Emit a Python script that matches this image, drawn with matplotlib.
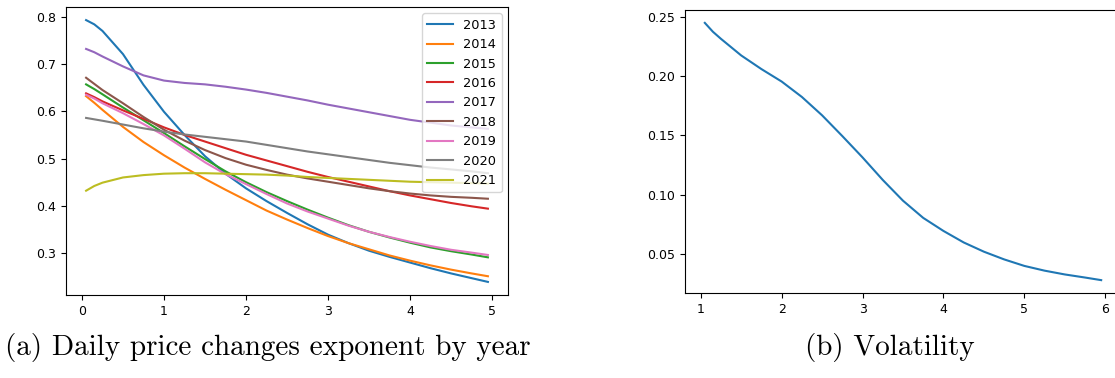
import matplotlib
matplotlib.use("Agg")
import matplotlib.pyplot as plt

# ── DATA ────────────────────────────────────────────────────────────
years = ["2013", "2014", "2015", "2016", "2017", "2018", "2019", "2020", "2021"]

scale = [0.05, 0.15, 0.25, 0.5, 0.75, 1.0, 1.25, 1.5, 1.75, 2.0, 2.25, 2.5,
         2.75, 3.0, 3.25, 3.5, 3.75, 4.0, 4.25, 4.5, 4.75, 4.95]

exp_2013 = [0.793, 0.784, 0.770, 0.721, 0.656, 0.599, 0.550, 0.505, 0.468,
            0.437, 0.410, 0.385, 0.361, 0.339, 0.321, 0.305, 0.292, 0.280,
            0.268, 0.257, 0.247, 0.239]
exp_2014 = [0.632, 0.618, 0.603, 0.567, 0.535, 0.507, 0.481, 0.457, 0.434,
            0.412, 0.390, 0.371, 0.353, 0.336, 0.321, 0.308, 0.295, 0.284,
            0.274, 0.265, 0.257, 0.251]
exp_2015 = [0.657, 0.647, 0.636, 0.608, 0.581, 0.554, 0.526, 0.499, 0.473,
            0.450, 0.429, 0.410, 0.392, 0.375, 0.359, 0.345, 0.333, 0.322,
            0.312, 0.304, 0.297, 0.291]
exp_2016 = [0.638, 0.630, 0.621, 0.602, 0.584, 0.566, 0.550, 0.536, 0.522,
            0.508, 0.496, 0.484, 0.472, 0.461, 0.451, 0.441, 0.431, 0.422,
            0.414, 0.406, 0.399, 0.394]
exp_2017 = [0.732, 0.725, 0.716, 0.695, 0.676, 0.665, 0.660, 0.657, 0.652,
            0.646, 0.639, 0.631, 0.623, 0.614, 0.606, 0.598, 0.590, 0.582,
            0.576, 0.570, 0.566, 0.563]
exp_2018 = [0.671, 0.658, 0.645, 0.617, 0.588, 0.561, 0.538, 0.518, 0.501,
            0.487, 0.476, 0.466, 0.458, 0.451, 0.444, 0.437, 0.431, 0.426,
            0.422, 0.419, 0.417, 0.415]
exp_2019 = [0.635, 0.627, 0.617, 0.596, 0.573, 0.549, 0.521, 0.492, 0.467,
            0.446, 0.425, 0.405, 0.388, 0.373, 0.358, 0.345, 0.334, 0.324,
            0.315, 0.307, 0.301, 0.296]
exp_2020 = [0.586, 0.583, 0.580, 0.572, 0.564, 0.557, 0.551, 0.546, 0.541,
            0.536, 0.529, 0.522, 0.515, 0.509, 0.503, 0.497, 0.491, 0.486,
            0.481, 0.477, 0.473, 0.469]
exp_2021 = [0.432, 0.442, 0.449, 0.460, 0.465, 0.468, 0.469, 0.469, 0.468,
            0.467, 0.466, 0.464, 0.461, 0.459, 0.457, 0.455, 0.453, 0.451,
            0.450, 0.449, 0.448, 0.447]

exponents = [exp_2013, exp_2014, exp_2015, exp_2016, exp_2017,
             exp_2018, exp_2019, exp_2020, exp_2021]

vol_x = [1.05, 1.15, 1.25, 1.5, 1.75, 2.0, 2.25, 2.5, 2.75, 3.0, 3.25, 3.5,
         3.75, 4.0, 4.25, 4.5, 4.75, 5.0, 5.25, 5.5, 5.75, 5.95]
vol_y = [0.2450, 0.2375, 0.2315, 0.2175, 0.2060, 0.1955, 0.1825, 0.1670,
         0.1495, 0.1315, 0.1125, 0.0950, 0.0805, 0.0695, 0.0598, 0.0520,
         0.0455, 0.0400, 0.0360, 0.0328, 0.0302, 0.0280]

# ── FIGURE ──────────────────────────────────────────────────────────
fig = plt.figure(figsize=(11.15, 3.78), dpi=100)

ax1 = fig.add_axes([66 / 1115, 83 / 378, 442 / 1115, 288 / 378])
for label, values in zip(years, exponents):
    ax1.plot(scale, values, label=label, linewidth=1.5)
ax1.set_xticks([0, 1, 2, 3, 4, 5])
ax1.set_yticks([0.3, 0.4, 0.5, 0.6, 0.7, 0.8])
ax1.tick_params(labelsize=9)
ax1.legend(loc="upper right", fontsize=9.3)

ax2 = fig.add_axes([685 / 1115, 85 / 378, 436 / 1115, 283 / 378])
ax2.plot(vol_x, vol_y, linewidth=1.5)
ax2.set_xticks([1, 2, 3, 4, 5, 6])
ax2.set_yticks([0.05, 0.10, 0.15, 0.20, 0.25])
ax2.tick_params(labelsize=9)

# subfigure captions
fig.text(5 / 1115, 0.082, "(a) Daily price changes exponent by year",
         fontfamily="cmr10", fontsize=21, va="center", ha="left")
fig.text(890 / 1115, 0.082, "(b) Volatility",
         fontfamily="cmr10", fontsize=21, va="center", ha="center")

fig.savefig("out.png", dpi=100)
